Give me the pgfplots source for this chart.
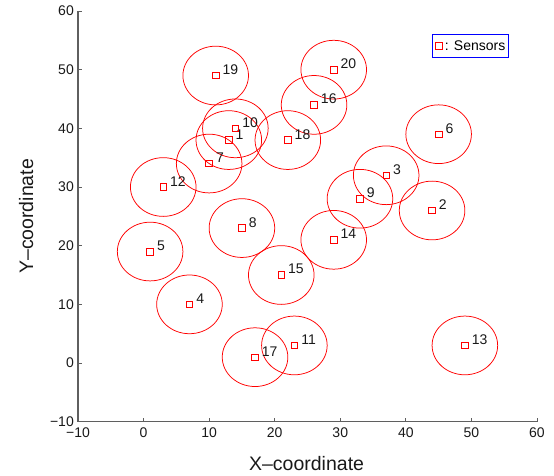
\documentclass[border=0pt]{standalone}
\usepackage{fontspec}
\setmainfont{Liberation Sans}
\usepackage{pgfplots}
\usepackage{pgfplotstable}
\pgfplotsset{compat=1.18}
\definecolor{axgray}{RGB}{95,95,95}
\pgfplotstableread{
x y n
13 38 1
44 26 2
37 32 3
7 10 4
1 19 5
45 39 6
10 34 7
15 23 8
33 28 9
14 40 10
23 3 11
3 30 12
49 3 13
29 21 14
21 15 15
26 44 16
17 1 17
22 38 18
11 49 19
29 50 20
}\sensors
\begin{document}
\begin{tikzpicture}
\useasboundingbox (0,0) rectangle (554pt,476pt);
\begin{axis}[
  at={(78pt,54.3pt)}, anchor=south west,
  scale only axis, width=459pt, height=410.7pt,
  xmin=-10, xmax=60, ymin=-10, ymax=60,
  axis x line*=bottom, axis y line*=left,
  axis line style={axgray, line width=1.1pt},
  tick align=inside, major tick length=4pt,
  tick style={axgray, line width=0.8pt},
  xtick={-10,0,10,20,30,40,50,60}, ytick={-10,0,10,20,30,40,50,60},
  xticklabels={−10,0,10,20,30,40,50,60},
  yticklabels={−10,0,10,20,30,40,50,60},
  ticklabel style={font=\fontsize{14}{16}\selectfont, text=black!90},
  xticklabel style={inner sep=0pt, yshift=-6pt},
  yticklabel style={inner sep=0pt, xshift=-4pt},
  xlabel={X–coordinate}, ylabel={Y–coordinate},
  label style={font=\fontsize{19.5}{22}\selectfont, text=black!90},
  xlabel style={at={(axis description cs:0.498,-0.1185)}, anchor=base},
  ylabel style={at={(axis description cs:-0.098,0.5)}, anchor=base},
  clip=false,
  legend image code/.code={\draw[#1] plot coordinates {(0pt,0pt)};},
  legend style={draw=blue, line width=0.8pt, fill=white,
    at={(axis cs:44,56.08)}, anchor=north west,
    inner xsep=3.3pt, inner ysep=6.5pt,
    font=\fontsize{14}{16}\selectfont,
    nodes={inner sep=0pt, text height=10pt, text depth=0pt},
    /tikz/every odd column/.append style={column sep=2.5pt}},
]
\addplot[only marks, mark=o, red, mark size=32.79pt,
  mark options={yscale=0.8954, line width=0.75pt}, forget plot]
  table[x=x, y=y]{\sensors};
\addplot[only marks, mark=square, red, mark size=3.3pt,
  mark options={line width=0.7pt},
  nodes near coords, point meta=explicit symbolic,
  nodes near coords style={anchor=west, inner sep=0pt, xshift=6.56pt,
    yshift=5.87pt, font=\fontsize{14}{16}\selectfont, text=black!90}]
  table[x=x, y=y, meta=n]{\sensors};
\addlegendentry{: Sensors\hspace{4pt}}
\end{axis}
\end{tikzpicture}
\end{document}
